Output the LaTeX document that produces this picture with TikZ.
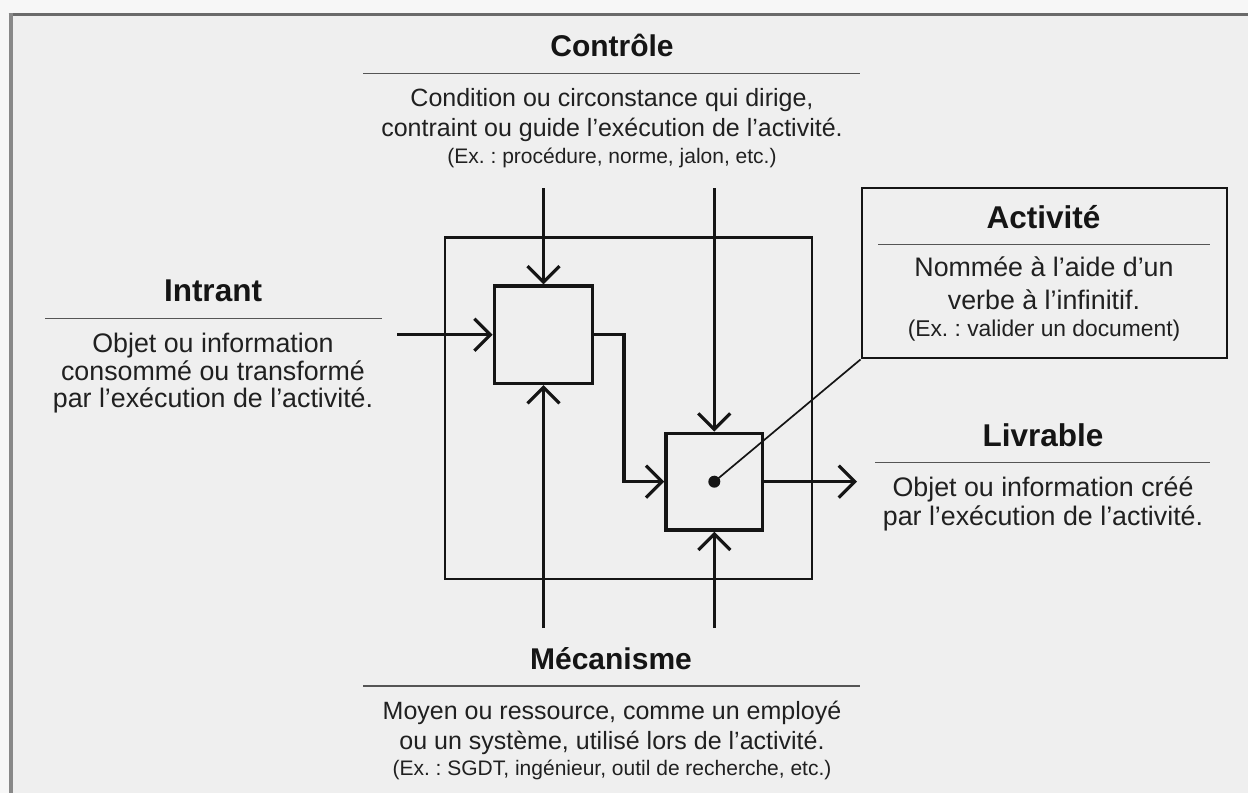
\documentclass[tikz,border=0pt]{standalone}
\usepackage{fontspec}
\setmainfont{Liberation Sans}
\usetikzlibrary{arrows.meta}
\frenchspacing
\definecolor{outbg}{HTML}{F7F7F7}
\definecolor{inbg}{HTML}{EFEFEF}
\definecolor{framecol}{HTML}{6A6A6A}
\definecolor{sidecol}{HTML}{888888}
\definecolor{inkcol}{HTML}{151515}
\definecolor{txtcol}{HTML}{202020}
\definecolor{sepcol}{HTML}{555555}
\tikzset{
  ttlA/.style={anchor=base, inner sep=0pt, text=inkcol, font=\fontsize{30}{36}\selectfont\bfseries},
  bodyA/.style={anchor=base, inner sep=0pt, text=txtcol, font=\fontsize{25}{30}\selectfont},
  smallA/.style={anchor=base, inner sep=0pt, text=txtcol, font=\fontsize{21}{25}\selectfont},
  ttlB/.style={anchor=base, inner sep=0pt, text=inkcol, font=\fontsize{31.5}{37}\selectfont\bfseries},
  bodyB/.style={anchor=base, inner sep=0pt, text=txtcol, font=\fontsize{26.8}{32}\selectfont},
  smallB/.style={anchor=base, inner sep=0pt, text=txtcol, font=\fontsize{22.8}{27}\selectfont},
  sepline/.style={draw=sepcol, line width=1.3pt},
  actbox/.style={draw=inkcol, line width=3.4pt, rectangle, inner sep=0pt},
  arr/.style={draw=inkcol, line width=3.2pt, -{Straight Barb[length=16pt, width=32pt]}},
}
\begin{document}
\begin{tikzpicture}[x=1pt, y=-1pt]
\useasboundingbox (0,0) rectangle (1248,793);
% background and frame
\fill[outbg] (0,0) rectangle (1248,793);
\fill[inbg] (10,14) rectangle (1248,793);
\draw[framecol, line width=3pt] (8.5,14) -- (1248,14);
\draw[sidecol, line width=4pt] (10.5,13) -- (10.5,793);

% Controle block
\node[ttlA] (ctitle) at (612,56) {Contrôle};
\coordinate (cl1) at (363,73.3);
\coordinate (cl2) at (860,73.3);
\draw[sepline] (cl1) -- (cl2);
\node[bodyA] (cb1) at (612,106) {Condition ou circonstance qui dirige,};
\node[bodyA] (cb2) at (612,136) {contraint ou guide l'exécution de l'activité.};
\node[smallA] (cb3) at (612,163.5) {(Ex. : procédure, norme, jalon, etc.)};

% Intrant block
\node[ttlB] (ititle) at (213,301.5) {Intrant};
\coordinate (il1) at (45,318.3);
\coordinate (il2) at (381.7,318.3);
\draw[sepline] (il1) -- (il2);
\node[bodyB] (ib1) at (213,352.5) {Objet ou information};
\node[bodyB] (ib2) at (213,380) {consommé ou transformé};
\node[bodyB] (ib3) at (213,407.5) {par l'exécution de l'activité.};

% Livrable block
\node[ttlB] (ltitle) at (1043,446.5) {Livrable};
\coordinate (ll1) at (875,462.7);
\coordinate (ll2) at (1210,462.7);
\draw[sepline] (ll1) -- (ll2);
\node[bodyB] (lb1) at (1043,496.5) {Objet ou information créé};
\node[bodyB] (lb2) at (1043,525) {par l'exécution de l'activité.};

% Mecanisme block
\node[ttlA] (mtitle) at (611,669.3) {Mécanisme};
\coordinate (ml1) at (363,686);
\coordinate (ml2) at (860,686);
\draw[sepline] (ml1) -- (ml2);
\node[bodyA] (mb1) at (612,719.3) {Moyen ou ressource, comme un employé};
\node[bodyA] (mb2) at (612,749) {ou un système, utilisé lors de l'activité.};
\node[smallA] (mb3) at (612,775) {(Ex. : SGDT, ingénieur, outil de recherche, etc.)};

% Activite callout
\node[draw=inkcol, line width=2.2pt, rectangle, inner sep=0pt, minimum width=365pt, minimum height=170pt] (abox) at (1044.2,273.3) {};
\node[ttlB] (atitle) at (1043.5,228.3) {Activité};
\coordinate (al1) at (878,244.3);
\coordinate (al2) at (1210,244.3);
\draw[sepline] (al1) -- (al2);
\node[bodyB] (ab1) at (1044,276.7) {Nommée à l'aide d'un};
\node[bodyB] (ab2) at (1044,309.5) {verbe à l'infinitif.};
\node[smallB] (ab3) at (1044,336) {(Ex. : valider un document)};

% Diagram
\node[draw=inkcol, line width=2.4pt, rectangle, inner sep=0pt, minimum width=367pt, minimum height=341.7pt] (outer) at (628.5,408.2) {};
\node[actbox, minimum width=98.4pt, minimum height=97.3pt] (b1) at (543.5,334.7) {};
\node[actbox, minimum width=96.7pt, minimum height=96.7pt] (b2) at (714.3,481.7) {};

\coordinate (cIn) at (397,334.7);
\coordinate (cC1) at (543.5,188);
\coordinate (cC2) at (714.3,188);
\coordinate (cM1) at (543.5,628);
\coordinate (cM2) at (714.3,628);
\coordinate (cOut) at (857,481.7);
\coordinate (bend) at (624,334.7);

\draw[arr] (cIn) -- (b1.west);
\draw[arr] (cC1) -- (b1.north);
\draw[arr] (cM1) -- (b1.south);
\draw[arr] (cC2) -- (b2.north);
\draw[arr] (cM2) -- (b2.south);
\draw[arr] (b1.east) -- (bend) |- (b2.west);
\draw[arr] (b2.east) -- (cOut);

\fill[inkcol] (b2.center) circle (6pt);
\coordinate (dot) at (b2.center);
\draw[inkcol, line width=1.7pt] (dot) -- (abox.south west);
\end{tikzpicture}
\end{document}
